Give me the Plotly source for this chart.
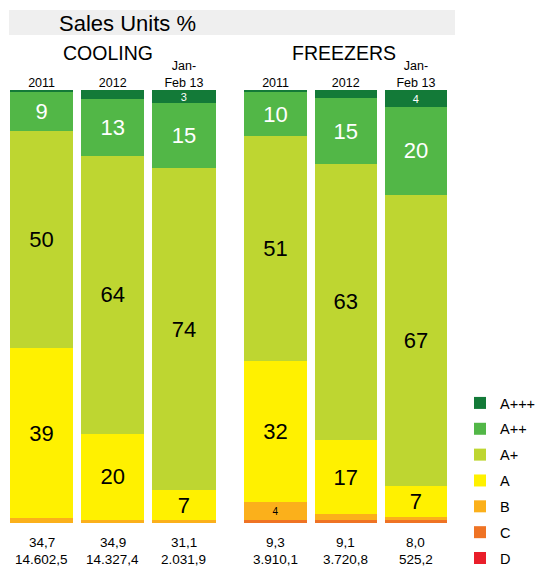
import plotly.graph_objects as go

W, H = 544, 568

periods = ["2011", "2012", "Jan-Feb 13"]
period_ticks = ["2011", "2012", "Jan-<br>Feb 13"]
groups = ["COOLING", "FREEZERS"]

classes = ["D", "C", "B", "A", "A+", "A++", "A+++"]  # bottom to top of stack
colors = {
    "A+++": "#137a38",
    "A++": "#52b747",
    "A+": "#bed631",
    "A": "#fff100",
    "B": "#fbb01b",
    "C": "#ef7324",
    "D": "#e91e2a",
}

# Share of sales units per energy class (%)
cooling = {
    "A+++": [0.5, 2.1, 3],
    "A++": [9, 13, 15],
    "A+": [50, 64, 74],
    "A": [39, 20, 7],
    "B": [1.2, 0.6, 0.6],
    "C": [0, 0, 0],
    "D": [0, 0, 0],
}
freezers = {
    "A+++": [0.5, 1.9, 4],
    "A++": [10, 15, 20],
    "A+": [51, 63, 67],
    "A": [32, 17, 7],
    "B": [4, 1.3, 0.8],
    "C": [0.7, 0.7, 0.6],
    "D": [0, 0, 0],
}

# Which segments carry a value label
labelled = {
    "COOLING": {"A+++": [0, 0, 1], "A++": [1, 1, 1], "A+": [1, 1, 1], "A": [1, 1, 1], "B": [0, 0, 0]},
    "FREEZERS": {"A+++": [0, 0, 1], "A++": [1, 1, 1], "A+": [1, 1, 1], "A": [1, 1, 1], "B": [1, 0, 0]},
}

# Figures printed under each bar
share_line = {"COOLING": ["34,7", "34,9", "31,1"], "FREEZERS": ["9,3", "9,1", "8,0"]}
volume_line = {"COOLING": ["14.602,5", "14.327,4", "2.031,9"], "FREEZERS": ["3.910,1", "3.720,8", "525,2"]}

FONT = "Liberation Sans, Arial, sans-serif"

def px_x(v):
    return v / W

def px_y(v):
    return 1 - v / H

slots = list(range(len(periods)))

text_colors = {"A+++": "white", "A++": "white", "A+": "black", "A": "black", "B": "black", "C": "black", "D": "black"}
label_size = {"A+++": 11, "A++": 22, "A+": 22, "A": 22, "B": 10, "C": 10, "D": 10}
legend_rank = {c: i for i, c in enumerate(["A+++", "A++", "A+", "A", "B", "C", "D"])}

fig = go.Figure()
for gi, (gname, data) in enumerate([("COOLING", cooling), ("FREEZERS", freezers)]):
    xa = "x" if gi == 0 else "x2"
    for cls in classes:
        vals = data[cls]
        flags = labelled[gname].get(cls, [0, 0, 0])
        texts = [(f"{v:g}" if f else "") for v, f in zip(vals, flags)]
        fig.add_trace(go.Bar(
            x=slots, y=vals, name=cls, xaxis=xa, yaxis="y",
            marker=dict(color=colors[cls], line=dict(width=0)),
            text=texts, textposition="inside", insidetextanchor="middle",
            textangle=0, constraintext="none",
            textfont=dict(family=FONT, size=label_size[cls], color=text_colors[cls]),
            showlegend=(gi == 0), legendgroup=cls,
            legendrank=legend_rank[cls],
            hoverinfo="skip",
        ))

y_top, y_bot = 90, 523
ydom = [px_y(y_bot), px_y(y_top)]

axis_common = dict(type="linear", side="top", anchor="y", range=[-0.5, 2.5],
                   tickmode="array", tickvals=slots, ticktext=period_ticks,
                   tickfont=dict(size=12.5), showline=False, showgrid=False,
                   ticks="", zeroline=False, fixedrange=True, automargin=False)

fig.update_layout(
    width=W, height=H,
    margin=dict(l=0, r=0, t=0, b=0, pad=0, autoexpand=False),
    paper_bgcolor="white", plot_bgcolor="white",
    barmode="stack", barnorm="percent", bargap=0.11,
    font=dict(family=FONT, color="black"),
    xaxis=dict(domain=[px_x(6), px_x(219.5)], **axis_common),
    xaxis2=dict(domain=[px_x(240.5), px_x(451)], **axis_common),
    yaxis=dict(domain=ydom, range=[0, 100], visible=False, fixedrange=True,
               automargin=False),
    legend=dict(x=px_x(460), y=px_y(387), xanchor="left", yanchor="top",
                traceorder="grouped", tracegroupgap=4,
                font=dict(size=14.5), bgcolor="rgba(0,0,0,0)"),
    showlegend=True,
)

# Grey title band
fig.add_shape(type="rect", xref="paper", yref="paper",
              x0=px_x(9), x1=px_x(455), y0=px_y(35), y1=px_y(10),
              fillcolor="#efefef", line=dict(width=0), layer="below")
fig.add_annotation(text="Sales Units %", xref="paper", yref="paper",
                   x=px_x(57), y=px_y(23), xanchor="left", yanchor="middle",
                   showarrow=False, font=dict(size=22, family=FONT))

group_centers = [108, 344]
for gname, cx in zip(groups, group_centers):
    fig.add_annotation(text=gname, xref="paper", yref="paper",
                       x=px_x(cx), y=px_y(53), xanchor="center", yanchor="middle",
                       showarrow=False, font=dict(size=19.5, family=FONT))

for gi, gname in enumerate(groups):
    xr = "x" if gi == 0 else "x2"
    for p, s, v in zip(slots, share_line[gname], volume_line[gname]):
        fig.add_annotation(text=s, xref=xr, yref="paper", x=p, y=px_y(542),
                           xanchor="center", yanchor="middle", showarrow=False,
                           font=dict(size=13.5, family=FONT))
        fig.add_annotation(text=v, xref=xr, yref="paper", x=p, y=px_y(559),
                           xanchor="center", yanchor="middle", showarrow=False,
                           font=dict(size=13.5, family=FONT))

fig.write_html("out.html")
